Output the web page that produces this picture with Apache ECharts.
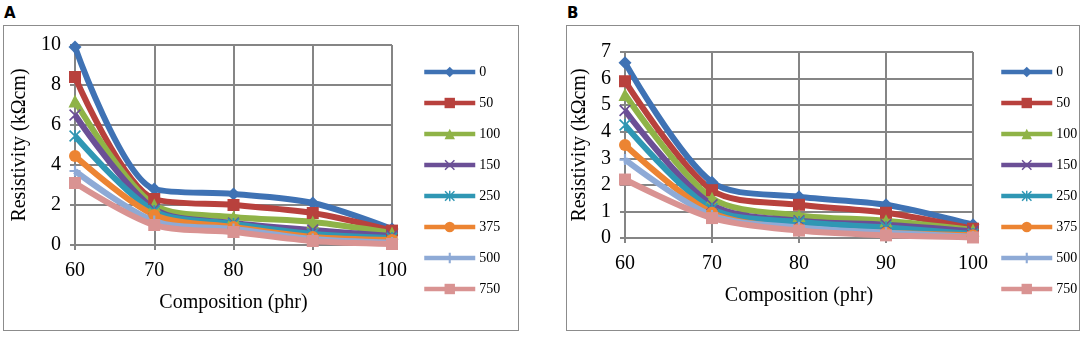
<!DOCTYPE html>
<html>
<head>
<meta charset="utf-8">
<script src="https://cdn.jsdelivr.net/npm/echarts@6/dist/echarts.min.js"></script>
<style>
  html, body { margin: 0; padding: 0; background: #fff; }
  body { width: 1084px; height: 337px; position: relative; overflow: hidden; }
  .tag { position: absolute; top: 4px; font: bold 15px "DejaVu Sans", sans-serif; color: #000; }
  .panel { position: absolute; top: 25px; height: 306px; border: 1px solid #8c8c8c; box-sizing: border-box; }
</style>
</head>
<body>
<div class="tag" style="left:4px">A</div>
<div class="tag" style="left:567px">B</div>
<div id="chartA" class="panel" style="left:3px;width:516px"></div>
<div id="chartB" class="panel" style="left:566px;width:514px"></div>
<script>
// composition (phr) on the x axis
const composition = [60, 70, 80, 90, 100];
const seriesNames = ['0', '50', '100', '150', '250', '375', '500', '750'];

// panel A resistivity (kΩcm), one array per series
const a0 = [9.9, 2.8, 2.55, 2.1, 0.8];
const a50 = [8.4, 2.3, 2.0, 1.6, 0.72];
const a100 = [7.2, 2.0, 1.4, 1.15, 0.6];
const a150 = [6.5, 1.8, 1.1, 0.75, 0.45];
const a250 = [5.45, 1.7, 1.05, 0.55, 0.35];
const a375 = [4.45, 1.5, 0.9, 0.4, 0.25];
const a500 = [3.7, 1.2, 0.8, 0.3, 0.12];
const a750 = [3.1, 1.0, 0.65, 0.2, 0.05];

// panel B resistivity (kΩcm)
const b0 = [6.6, 2.1, 1.55, 1.25, 0.5];
const b50 = [5.9, 1.8, 1.25, 0.95, 0.35];
const b100 = [5.4, 1.5, 0.85, 0.65, 0.3];
const b150 = [4.8, 1.25, 0.65, 0.5, 0.25];
const b250 = [4.25, 1.1, 0.6, 0.4, 0.15];
const b375 = [3.5, 0.95, 0.35, 0.2, 0.1];
const b500 = [2.95, 0.85, 0.4, 0.2, 0.05];
const b750 = [2.2, 0.75, 0.28, 0.1, 0.02];

const colors = ['#3F72B4', '#B8413D', '#8FB347', '#6B4F96', '#2F97B4', '#EC8432', '#8EAAD6', '#D99392'];
const xMark = 'path://M0,1L1,0L5,4L9,0L10,1L6,5L10,9L9,10L5,6L1,10L0,9L4,5Z';
const starMark = 'path://M0,1L1,0L5,4L9,0L10,1L6,5L10,9L9,10L5,6L1,10L0,9L4,5ZM4.3,0H5.7V10H4.3Z';
const plusMark = 'path://M4,0H6V4H10V6H6V10H4V6H0V4H4Z';
const dashMark = 'path://M0,3H10V7H0Z';
const symbols = ['diamond', 'rect', 'triangle', xMark, starMark, 'circle', plusMark, dashMark];
const symbolSizes = [13, 12, 13, 12, 12, 12, 11, 12];

const serif = '"Liberation Serif", "DejaVu Serif", serif';
const gridColor = '#858585';

function makeOption(data, yMax, yStep, grid, legendLeft, yNameGap, xNameGap) {
    return {
        animation: false,
        color: colors,
        textStyle: { fontFamily: serif },
        grid: Object.assign({ outerBoundsMode: 'none', containLabel: false }, grid),
        legend: {
            orient: 'vertical',
            left: legendLeft,
            top: 34,
            itemWidth: 51,
            itemHeight: 13,
            itemGap: 17,
            itemStyle: { borderWidth: 0 },
            lineStyle: { width: 4.5 },
            textStyle: { fontFamily: serif, fontSize: 14, lineHeight: 13, color: '#000', padding: [0, 0, 0, -1] },
            data: seriesNames
        },
        xAxis: {
            type: 'value',
            min: 60,
            max: 100,
            interval: 10,
            name: 'Composition (phr)',
            nameLocation: 'middle',
            nameGap: xNameGap,
            nameTextStyle: { fontFamily: serif, fontSize: 20, color: '#000' },
            axisLine: { lineStyle: { color: gridColor, width: 2 } },
            axisTick: { show: true, length: 5, lineStyle: { color: gridColor, width: 2 } },
            axisLabel: { fontFamily: serif, fontSize: 20, color: '#000', margin: 16 },
            splitLine: { show: true, lineStyle: { color: gridColor, width: 2 } }
        },
        yAxis: {
            type: 'value',
            min: 0,
            max: yMax,
            interval: yStep,
            name: 'Resistivity (kΩcm)',
            nameLocation: 'middle',
            nameGap: yNameGap,
            nameTextStyle: { fontFamily: serif, fontSize: 20, color: '#000' },
            axisLine: { show: true, lineStyle: { color: gridColor, width: 2 } },
            axisTick: { show: true, length: 5, lineStyle: { color: gridColor, width: 2 } },
            axisLabel: { fontFamily: serif, fontSize: 20, color: '#000', margin: 14 },
            splitLine: { show: true, lineStyle: { color: gridColor, width: 2 } }
        },
        series: data.map((vals, i) => ({
            name: seriesNames[i],
            type: 'line',
            smooth: 0.3,
            symbol: symbols[i],
            symbolSize: symbolSizes[i],
            showAllSymbol: true,
            lineStyle: { width: 6, color: colors[i] },
            itemStyle: { color: colors[i] },
            data: vals.map((v, j) => [composition[j], v])
        }))
    };
}

const chartA = echarts.init(document.getElementById('chartA'));
chartA.setOption(makeOption(
    [a0, a50, a100, a150, a250, a375, a500, a750], 10, 2,
    { left: 71, top: 19, right: 126, bottom: 85 }, 413, 40, 48
));

const chartB = echarts.init(document.getElementById('chartB'));
chartB.setOption(makeOption(
    [b0, b50, b100, b150, b250, b375, b500, b750], 7, 1,
    { left: 58, top: 26, right: 106, bottom: 92 }, 427, 28, 48
));
</script>
</body>
</html>
